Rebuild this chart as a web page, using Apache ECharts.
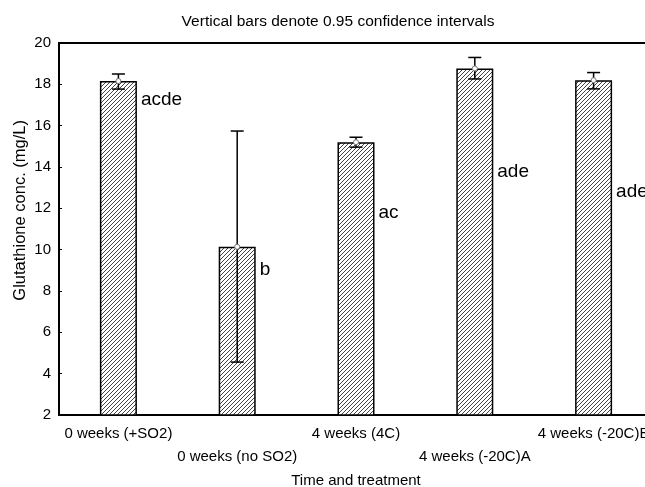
<!DOCTYPE html>
<html>
<head>
<meta charset="utf-8">
<script src="https://cdn.jsdelivr.net/npm/echarts@6/dist/echarts.min.js"></script>
<style>html,body{margin:0;padding:0;background:#fff}#c{width:645px;height:487px}</style>
</head>
<body>
<div id="c"></div>
<script>
const categories = ['0 weeks (+SO2)', '0 weeks (no SO2)', '4 weeks (4C)', '4 weeks (-20C)A', '4 weeks (-20C)B'];
const means = [18.16, 10.14, 15.2, 18.77, 18.2];
const ciLow = [17.77, 4.56, 14.96, 18.26, 17.78];
const ciHigh = [18.5, 15.74, 15.44, 19.3, 18.57];
const groupLetters = ['acde', 'b', 'ac', 'ade', 'ade'];
const letterY = [17.24, 9.02, 11.77, 13.76, 12.79];
const yTicks = { min: 2, max: 20, interval: 2 };

const FONT = 'Liberation Sans, Arial, sans-serif';
const BAR_W = 37;

// hatch pattern
const tile = document.createElement('canvas');
tile.width = 4; tile.height = 4;
const tc = tile.getContext('2d');
tc.fillStyle = '#fff'; tc.fillRect(0, 0, 4, 4);
tc.strokeStyle = '#444'; tc.lineWidth = 1;
tc.beginPath();
tc.moveTo(-1, 5); tc.lineTo(5, -1);
tc.moveTo(-1, 1); tc.lineTo(1, -1);
tc.moveTo(3, 5); tc.lineTo(5, 3);
tc.stroke();

const chart = echarts.init(document.getElementById('c'), null, { renderer: 'canvas' });
chart.setOption({
  animation: false,
  backgroundColor: '#fff',
  title: {
    text: 'Vertical bars denote 0.95 confidence intervals',
    left: 333, top: 9, textAlign: 'center',
    textStyle: { fontFamily: FONT, fontSize: 15.5, fontWeight: 'normal', color: '#000' }
  },
  graphic: [{
    type: 'text', left: 12, top: 120, rotation: Math.PI / 2,
    style: { text: 'Glutathione conc. (mg/L)', font: '16.5px ' + FONT, fill: '#000' },
    originX: 0, originY: 0
  }],
  grid: { left: 59, top: 43, width: 594, height: 372, containLabel: false, outerBoundsMode: 'none' },
  xAxis: [{
    type: 'category', data: categories, position: 'bottom',
    axisLine: { lineStyle: { color: '#000', width: 2 } },
    axisTick: { inside: true, alignWithLabel: true, length: 3, lineStyle: { color: '#000' } },
    axisLabel: {
      fontFamily: FONT, fontSize: 15, color: '#000', margin: 7, lineHeight: 23, interval: 0,
      formatter: (v, i) => (i % 2 ? '\n' + v : v)
    },
    name: 'Time and treatment', nameLocation: 'middle', nameGap: 58,
    nameTextStyle: { fontFamily: FONT, fontSize: 15, color: '#000' }
  }, {
    type: 'category', data: categories, position: 'top',
    axisLine: { lineStyle: { color: '#000', width: 2 } },
    axisTick: { inside: true, alignWithLabel: true, length: 5, lineStyle: { color: '#000' } },
    axisLabel: { show: false }
  }],
  yAxis: {
    type: 'value', min: yTicks.min, max: yTicks.max, interval: yTicks.interval,
    axisLine: { show: true, lineStyle: { color: '#000', width: 2 } },
    axisTick: { show: true, inside: true, length: 3, lineStyle: { color: '#000' } },
    splitLine: { show: false },
    axisLabel: { fontFamily: FONT, fontSize: 15, color: '#000', margin: 8 }
  },
  series: [{
    type: 'bar', data: means, barWidth: BAR_W,
    itemStyle: { color: { image: tile, repeat: 'repeat' }, borderColor: '#000', borderWidth: 1.5 }
  }, {
    type: 'custom',
    data: categories.map((c, i) => [i, ciLow[i], ciHigh[i], means[i]]),
    renderItem: function (params, api) {
      const i = api.value(0);
      const lo = api.coord([i, api.value(1)]);
      const hi = api.coord([i, api.value(2)]);
      const m = api.coord([i, api.value(3)]);
      const x = lo[0], hw = 6.5;
      const ls = { stroke: '#000', lineWidth: 1.5 };
      return {
        type: 'group', children: [
          { type: 'line', shape: { x1: x, y1: lo[1], x2: x, y2: hi[1] }, style: ls },
          { type: 'line', shape: { x1: x - hw, y1: lo[1], x2: x + hw, y2: lo[1] }, style: ls },
          { type: 'line', shape: { x1: x - hw, y1: hi[1], x2: x + hw, y2: hi[1] }, style: ls },
          { type: 'circle', shape: { cx: x, cy: m[1], r: 2.5 }, style: { fill: '#fff', stroke: '#777', lineWidth: 1 } }
        ]
      };
    },
    z: 5
  }, {
    type: 'custom',
    data: categories.map((c, i) => [i, letterY[i], groupLetters[i]]),
    renderItem: function (params, api) {
      const p = api.coord([api.value(0), api.value(1)]);
      return {
        type: 'text',
        style: { text: groupLetters[params.dataIndex], x: p[0] + BAR_W / 2 + 4, y: p[1],
          verticalAlign: 'middle', align: 'left', font: '19px ' + FONT, fill: '#000' }
      };
    },
    z: 6
  }]
});
</script>
</body>
</html>
